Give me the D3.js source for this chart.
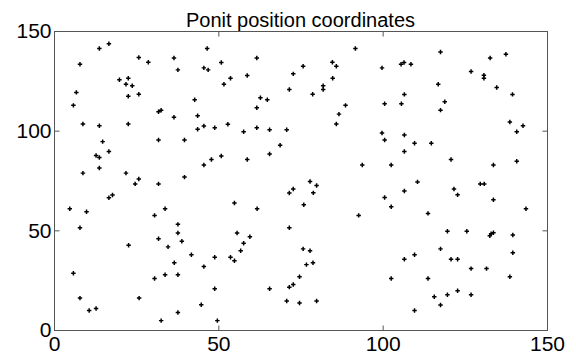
<!DOCTYPE html>
<html>
<head>
<meta charset="utf-8">
<script src="https://cdn.jsdelivr.net/npm/d3@7"></script>
<style>
  body { margin: 0; background: #fff; }
  text { font-family: "Liberation Sans", Arial, sans-serif; fill: #000; }
</style>
</head>
<body>
<div id="chart"></div>
<script>
// point coordinates
const xs = [
  16.7, 13.8, 7.9, 25.8, 28.7, 36.5, 37.7, 46.6, 45.6, 46.9, 19.9, 22.6, 21.9, 23.8, 6.8, 22.6, 25.8, 5.9, 42.8,
  31.8, 32.6, 36.5, 43.7, 8.8, 13.8, 22.6, 43.7, 45.6, 31.8, 39.7, 14.8, 16.7, 12.8, 13.8, 13.8, 45.6, 8.8, 21.9,
  25.8, 39.7, 47.9,
  24.7, 31.8, 16.7, 17.8, 4.8, 9.9, 30.6, 33.8, 7.9, 37.7, 37.7, 31.8, 38.9, 22.7, 34.7, 41.8, 36.6, 45.6, 5.9,
  30.6, 33.8, 37.7, 7.9, 25.9, 10.7, 12.8, 44.8, 37.7, 32.6,
  50.9, 61.7, 51.7, 53.7, 58.8, 91.7, 84.7, 85.9, 75.8, 72.8, 84.8, 81.9, 81.9, 78.7, 71.6, 62.8, 64.9, 61.7,
  88.7, 86.7, 85.9, 48.9, 52.9, 57.7, 61.7, 65.6, 70.8, 68.8, 65.6, 50.9, 58.8, 93.8,
  77.9, 79.9, 71.6, 72.8, 78.9, 54.9, 61.8, 76.0, 92.7, 71.6, 55.7, 59.6, 57.7, 56.8, 48.9, 53.7, 54.9, 75.8,
  77.9, 76.8, 78.8, 74.7, 71.6, 72.8, 48.9, 65.6, 70.8, 74.7, 79.9, 49.7,
  99.8, 105.6, 106.5, 108.6, 117.6, 132.7, 137.5, 126.9, 130.8, 130.8, 134.7, 116.9, 106.6, 139.5, 100.6, 105.7,
  118.9, 117.6, 138.7, 142.7, 140.8, 99.8, 100.6, 106.6, 109.7, 114.8, 106.6, 102.6, 120.8, 133.7, 140.8,
  110.6, 100.6, 106.6, 102.6, 121.7, 122.8, 129.7, 130.9, 133.7, 143.6, 113.8, 119.7, 125.6, 132.6, 133.0, 133.7,
  139.6, 117.6, 139.6, 106.6, 109.7, 120.8, 122.8, 126.9, 131.6, 102.6, 113.8, 138.7, 115.7, 119.7, 122.8, 126.9,
  117.6, 109.7
];
const ys = [
  143.6, 141.2, 133.3, 136.7, 134.3, 136.5, 130.5, 141.2, 131.5, 130.5, 125.5, 126.3, 123.3, 122.5, 119.2, 117.3, 118.3, 112.7, 115.5,
  109.5, 110.2, 106.7, 107.5, 103.3, 102.5, 103.3, 100.7, 102.3, 95.3, 95.3, 94.5, 89.5, 87.5, 86.5, 81.3, 82.8, 78.7, 78.7,
  75.8, 76.7, 85.5,
  73.3, 73.3, 66.3, 67.7, 60.8, 59.3, 57.5, 60.8, 51.3, 53.0, 48.7, 45.8, 44.5, 42.5, 41.7, 37.8, 33.7, 31.8, 28.5,
  25.8, 27.7, 27.7, 16.0, 16.0, 9.8, 10.8, 12.7, 8.8, 4.7,
  134.2, 136.5, 123.3, 126.3, 127.7, 141.2, 134.3, 132.3, 132.3, 128.5, 126.3, 122.5, 120.7, 118.3, 120.7, 116.5, 115.5, 111.5,
  112.7, 108.3, 103.3, 101.5, 103.2, 99.5, 101.5, 100.5, 100.5, 92.7, 88.3, 87.3, 85.5, 82.8,
  74.5, 72.5, 68.7, 70.7, 68.8, 63.7, 60.8, 62.8, 57.5, 51.3, 48.7, 46.8, 43.5, 39.8, 36.5, 36.5, 34.7, 40.7,
  39.8, 32.8, 33.7, 26.7, 21.5, 22.8, 20.7, 20.7, 14.5, 13.5, 14.5, 4.7,
  131.5, 133.3, 134.2, 133.3, 139.5, 136.5, 138.3, 129.7, 127.8, 126.3, 121.7, 123.3, 118.2, 118.2, 113.5, 113.5,
  114.5, 110.3, 104.3, 102.5, 99.5, 98.8, 95.3, 97.8, 93.7, 93.7, 89.5, 82.8, 85.5, 82.8, 84.7,
  74.3, 66.5, 69.7, 61.8, 70.7, 67.8, 73.3, 73.3, 65.3, 60.8, 58.5, 49.5, 49.5, 47.3, 48.3, 48.8,
  47.7, 40.7, 38.8, 35.5, 37.8, 35.5, 35.5, 30.8, 30.8, 25.8, 25.8, 26.7, 16.7, 17.7, 19.7, 17.7,
  12.5, 9.8
];
const tickValues = [0, 50, 100, 150];
const titleText = 'Ponit position coordinates';

const width = 576, height = 358;
const margin = { top: 31, right: 29, bottom: 28, left: 54 };

const svg = d3.select('#chart')
  .append('svg')
  .attr('width', width)
  .attr('height', height);

const x = d3.scaleLinear().domain([0, 150]).range([margin.left, width - margin.right]);
const y = d3.scaleLinear().domain([0, 150]).range([height - margin.bottom, margin.top]);

// box around the plot area
svg.append('rect')
  .attr('x', x(0) + 0.5)
  .attr('y', y(150) + 0.5)
  .attr('width', x(150) - x(0))
  .attr('height', y(0) - y(150))
  .attr('fill', 'none')
  .attr('stroke', '#555')
  .attr('stroke-width', 1);

// axes with inward ticks, labels on bottom and left
const axisColor = '#555';
const styleAxis = g => {
  g.select('.domain').remove();
  g.selectAll('.tick line').attr('stroke', axisColor);
  g.selectAll('.tick text')
    .style('font-family', '"Liberation Sans", Arial, sans-serif')
    .style('font-size', '21px')
    .attr('fill', '#000');
};

svg.append('g')
  .attr('transform', `translate(0,${y(0) + 0.5})`)
  .call(d3.axisBottom(x).tickValues(tickValues).tickSizeInner(-5).tickSizeOuter(0).tickPadding(4))
  .call(styleAxis)
  .call(g => g.selectAll('.tick text').attr('dy', '0.8em'));

svg.append('g')
  .attr('transform', `translate(0,${y(150) + 0.5})`)
  .call(d3.axisTop(x).tickValues(tickValues).tickSizeInner(-5).tickSizeOuter(0).tickFormat(''))
  .call(styleAxis);

svg.append('g')
  .attr('transform', `translate(${x(0) + 0.5},0)`)
  .call(d3.axisLeft(y).tickValues(tickValues).tickSizeInner(-5).tickSizeOuter(0).tickPadding(3))
  .call(styleAxis);

svg.append('g')
  .attr('transform', `translate(${x(150) + 0.5},0)`)
  .call(d3.axisRight(y).tickValues(tickValues).tickSizeInner(-5).tickSizeOuter(0).tickFormat(''))
  .call(styleAxis);

// title
svg.append('text')
  .attr('x', (x(0) + x(150)) / 2)
  .attr('y', margin.top - 4)
  .attr('text-anchor', 'middle')
  .style('font-size', '20px')
  .text(titleText);

// points
const points = xs.map((v, i) => ({ x: v, y: ys[i] }));
const marker = d3.symbol().type(d3.symbolCross).size(11);

svg.append('g')
  .selectAll('path')
  .data(points)
  .enter()
  .append('path')
  .attr('transform', d => `translate(${x(d.x)},${y(d.y)})`)
  .attr('d', marker)
  .attr('fill', '#000');
</script>
</body>
</html>
